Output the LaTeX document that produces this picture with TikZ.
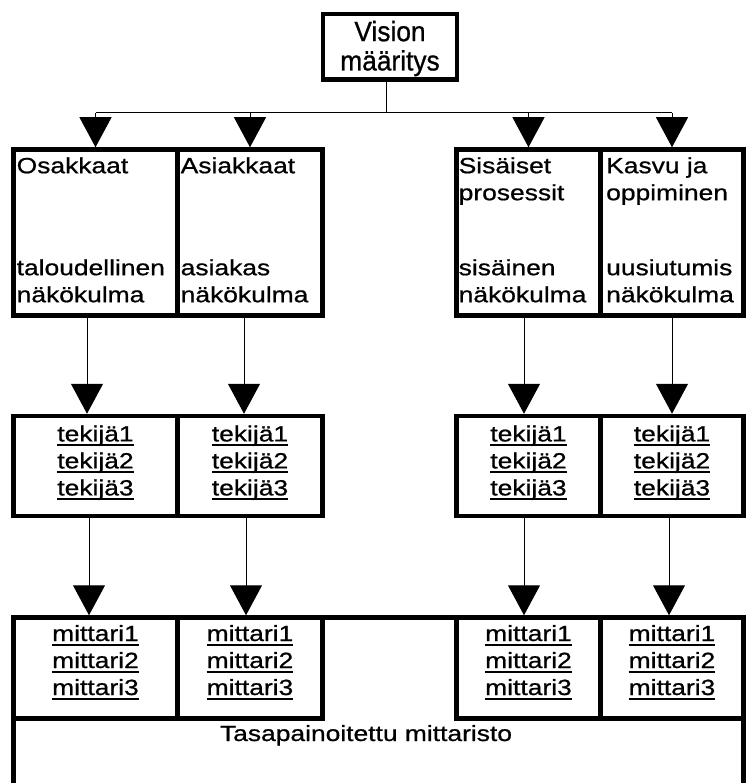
\documentclass[tikz,border=0pt]{standalone}
\usepackage{fontspec}
\setmainfont{Liberation Sans}
\newfontfamily\boxfont{Liberation Sans}[FakeStretch=1.2,FakeBold=0.8]
\newfontfamily\visionfont{Liberation Sans}[FakeStretch=0.94,FakeBold=0.8]
\usetikzlibrary{arrows.meta}

% underline drawn just below the baseline, through descenders
\newcommand\ulword[1]{\setbox0=\hbox{#1}\rlap{\rule[-5pt]{\wd0}{2pt}}\box0}

\tikzset{
  frame/.style={draw, line width=4.5pt, inner sep=0pt},
  txt/.style={inner sep=0pt, font=\boxfont\fontsize{22}{27}\selectfont},
  link/.style={line width=1pt},
  arr/.style={line width=1pt, -{Triangle[width=32pt,length=30pt]}}
}

\begin{document}
\begin{tikzpicture}[x=1pt,y=-1pt]
\useasboundingbox (0,0) rectangle (747,783);

% vision box
\node[frame, minimum width=133.75pt, minimum height=65.5pt] (vis) at (390,46.75) {};
\node[txt, font=\visionfont\fontsize{28}{26.7}\selectfont, align=center] (vist) at (390,49.65)
  {\strut Vision\\\strut määritys};

% perspective boxes
\node[frame, minimum width=164pt, minimum height=166pt] (b1) at (95.5,232.5) {};
\node[frame, minimum width=145pt, minimum height=166pt] (b2) at (250,232.5) {};
\node[frame, minimum width=144pt, minimum height=166pt] (b3) at (528.5,232.5) {};
\node[frame, minimum width=143pt, minimum height=166pt] (b4) at (672,232.5) {};

\node[txt, anchor=north west, align=left] (b1a) at (16.5,154.1) {\strut Osakkaat};
\node[txt, anchor=north west, align=left] (b1b) at (16.5,256.1) {\strut taloudellinen\\\strut näkökulma};
\node[txt, anchor=north west, align=left] (b2a) at (180.5,154.1) {\strut Asiakkaat};
\node[txt, anchor=north west, align=left] (b2b) at (180.5,256.1) {\strut asiakas\\\strut näkökulma};
\node[txt, anchor=north west, align=left] (b3a) at (458.5,154.1) {\strut Sisäiset\\\strut prosessit};
\node[txt, anchor=north west, align=left] (b3b) at (458.5,256.1) {\strut sisäinen\\\strut näkökulma};
\node[txt, anchor=north west, align=left] (b4a) at (606,154.1) {\strut Kasvu ja\\\strut oppiminen};
\node[txt, anchor=north west, align=left] (b4b) at (606,256.1) {\strut uusiutumis\\\strut näkökulma};

% factor boxes
\node[frame, minimum width=164pt, minimum height=100pt] (f1) at (95.5,466) {};
\node[frame, minimum width=145pt, minimum height=100pt] (f2) at (250,466) {};
\node[frame, minimum width=144pt, minimum height=100pt] (f3) at (528.5,466) {};
\node[frame, minimum width=143pt, minimum height=100pt] (f4) at (672,466) {};
\foreach \n/\x in {f1/95.5, f2/250, f3/528.5, f4/672}
  \node[txt, align=center] (\n t) at (\x,463)
    {\strut\ulword{tekijä1}\\\strut\ulword{tekijä2}\\\strut\ulword{tekijä3}};

% balanced scorecard frame (open towards the bottom edge)
\coordinate (bscl) at (13.5,795);
\coordinate (bscr) at (743.5,795);
\coordinate (bsctop) at (0,617.5);
\draw[line width=4.5pt] (bscl) |- (bsctop -| bscr) -- (bscr);
\node[txt, anchor=base] (bsct) at (366,741) {Tasapainoitettu mittaristo};

% measure boxes
\node[frame, minimum width=164pt, minimum height=101pt] (m1) at (95.5,668) {};
\node[frame, minimum width=145pt, minimum height=101pt] (m2) at (250,668) {};
\node[frame, minimum width=144pt, minimum height=101pt] (m3) at (528.5,668) {};
\node[frame, minimum width=143pt, minimum height=101pt] (m4) at (672,668) {};
\foreach \n/\x in {m1/95.5, m2/250, m3/528.5, m4/672}
  \node[txt, align=center] (\n t) at (\x,662.6)
    {\strut\ulword{mittari1}\\\strut\ulword{mittari2}\\\strut\ulword{mittari3}};

% connectors from the vision box
\coordinate (bus) at (0,113);
\coordinate (drop) at (386,0);
\draw[link] (vis.south -| drop) -- (bus -| drop);
\draw[link] (b1.north |- bus) -- (b4.north |- bus);
\foreach \n in {b1,b2,b3,b4}
  \draw[arr] (\n.north |- bus) -- (\n.north);

% perspectives to factors
\foreach \a/\b/\x in {b1/f1/87, b2/f2/244, b3/f3/524, b4/f4/672} {
  \coordinate (col) at (\x,0);
  \draw[arr] (\a.south -| col) -- (\b.north -| col);
}

% factors to measures
\foreach \a/\b/\x in {f1/m1/89, f2/m2/246, f3/m3/524, f4/m4/669} {
  \coordinate (col) at (\x,0);
  \draw[arr] (\a.south -| col) -- (\b.north -| col);
}
\end{tikzpicture}
\end{document}
